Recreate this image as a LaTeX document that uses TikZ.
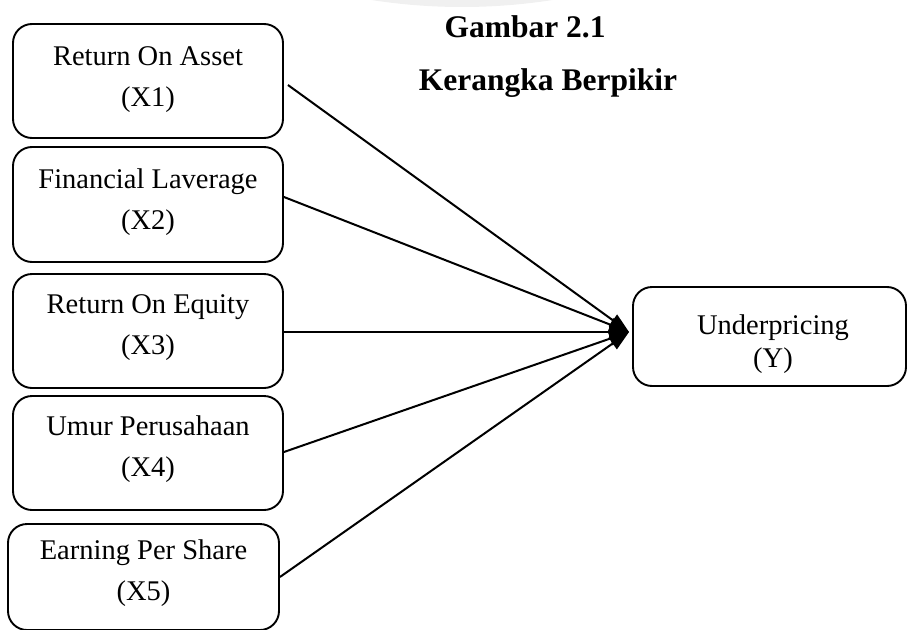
\documentclass[tikz,border=0pt]{standalone}
\usepackage{fontspec}
\setmainfont{Liberation Serif}
\newfontfamily\titlefont{Liberation Serif}
\usetikzlibrary{arrows.meta}
\tikzset{
  varbox/.style={draw=black, line width=1.9pt, rounded corners=19pt, inner sep=0pt},
  boxtext/.style={align=center, font=\fontsize{28.5}{41}\selectfont},
  ytext/.style={align=center, font=\fontsize{28.5}{33}\selectfont},
  titletext/.style={anchor=base, font=\titlefont\bfseries\fontsize{31.5}{36}\selectfont},
  link/.style={line width=2pt, -{Triangle[length=20pt,width=14pt]}}
}
\begin{document}
\begin{tikzpicture}[x=1pt,y=-1pt]
\useasboundingbox (0,0) rectangle (907,629);
\clip (0,0) rectangle (907,629);
\fill[gray!12] (462,-575) circle (582);
% boxes
\node[varbox, minimum width=270pt, minimum height=114pt] (b1) at (148,81) {};
\node[varbox, minimum width=270pt, minimum height=115pt] (b2) at (148,204.5) {};
\node[varbox, minimum width=270pt, minimum height=114pt] (b3) at (148,331) {};
\node[varbox, minimum width=270pt, minimum height=114pt] (b4) at (148,453) {};
\node[varbox, minimum width=271pt, minimum height=106pt] (b5) at (143.5,577) {};
\node[varbox, minimum width=273pt, minimum height=99pt] (y) at (769.5,336.5) {};
% texts
\node[boxtext] (t1) at (148,80) {Return On Asset\\(X1)};
\node[boxtext] (t2) at (148,202.5) {Financial Laverage\\(X2)};
\node[boxtext] (t3) at (148,327.5) {Return On Equity\\(X3)};
\node[boxtext] (t4) at (148,449.5) {Umur Perusahaan\\(X4)};
\node[boxtext] (t5) at (143.5,573.5) {Earning Per Share\\(X5)};
\node[ytext] (ty) at (773,344.5) {Underpricing\\(Y)};
\node[titletext] (g1) at (525,37) {Gambar 2.1};
\node[titletext] (g2) at (548,90) {Kerangka Berpikir};
% connectors
\coordinate (tip) at ([xshift=-3pt,yshift=4.5pt]y.west);
\coordinate (s1) at ([xshift=4pt,yshift=-4pt]b1.east);
\coordinate (s2) at ([yshift=7.5pt]b2.east);
\coordinate (s3) at ([yshift=-1pt]b3.east);
\coordinate (s4) at ([yshift=1pt]b4.east);
\draw[link] (s1) -- (tip);
\draw[link] (s2) -- (tip);
\draw[link] (s3) -- (tip);
\draw[link] (s4) -- (tip);
\draw[link] (b5.east) -- (tip);
\end{tikzpicture}
\end{document}
